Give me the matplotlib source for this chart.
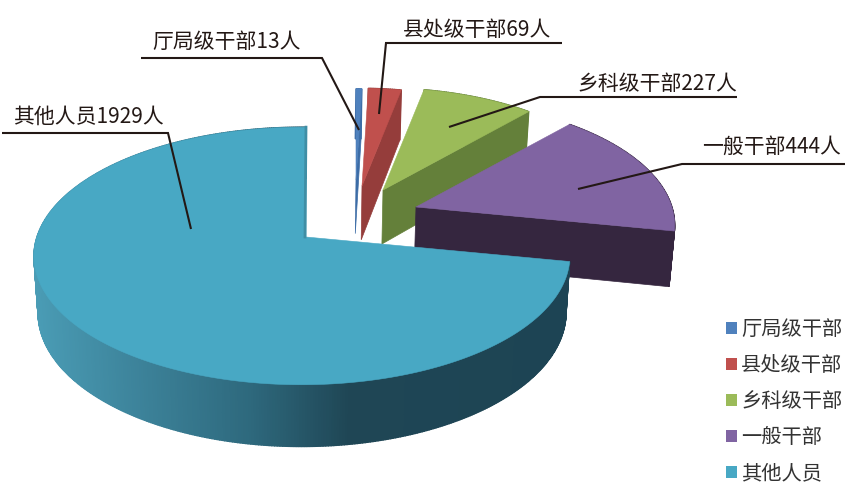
import numpy as np
import matplotlib
matplotlib.use("Agg")
import matplotlib.pyplot as plt
import matplotlib.colors as mcolors
from matplotlib.patches import Patch, Polygon

plt.rcParams['font.family'] = ['Noto Sans CJK SC', 'DejaVu Sans']

names = ['厅局级干部', '县处级干部', '乡科级干部', '一般干部', '其他人员']
counts = [13, 69, 227, 444, 1929]

top_colors = ['#4f81bd', '#c0504d', '#9bbb59', '#8064a2', '#48a8c4']
side_colors = ['#3c6ca6', '#953d3b', '#64803a', '#35263f', '#1d4454']

# where each exploded slice sits (pixels) and how big it is drawn
apex_x = [356, 362, 383, 416, 306]
apex_y = [180, 186, 190, 207, 237]
slice_scale = [0.83, 0.89, 0.93, 0.98, 1.0]

# pie tilt
RX, RY = 265, 126
P_BACK, P_SIDE = 0.147, 0.015
VANISH_X = 310

# shading of the round side of the big slice, by screen x
grad_x = [34, 150, 250, 350, 570]
grad_c = ['#4a9cb5', '#3b8097', '#2e697d', '#1f4655', '#1d4454']

# label text x, y and leader line points
label_x = [152, 403, 578, 702, 13]
label_y = [42, 30, 84, 147, 117]
leader_x = [[141, 322, 359], [562, 386, 379], [737, 540, 449], [845, 682, 578], [2, 168, 191]]
leader_y = [[58, 58, 130], [43, 43, 114], [97, 97, 127], [164, 164, 189], [133, 133, 229]]


def rim(ang, ax0, ay0, s):
    # ang in degrees, clockwise from 12 o'clock
    a = np.radians(ang)
    X, Y = np.sin(a), np.cos(a)
    w = 1 + P_BACK * Y + P_SIDE * X
    return ax0 + s * RX * X / w, ay0 - s * RY * Y / w


def lower(x, y):
    # same point on the underside of the pie
    x = np.asarray(x, dtype=float)
    y = np.asarray(y, dtype=float)
    return VANISH_X + (x - VANISH_X) * 0.985, y + 50 + 0.04 * (y - 90)


def grad_color(x):
    rgb = np.array([mcolors.to_rgb(c) for c in grad_c])
    return [np.interp(x, grad_x, rgb[:, i]) for i in range(3)]


fig = plt.figure(figsize=(8.56, 4.97), dpi=100)
ax = fig.add_axes([0, 0, 1, 1])
ax.set_xlim(0, 856)
ax.set_ylim(497, 0)
ax.axis('off')

edges = np.concatenate([[0], np.cumsum(counts) / np.sum(counts) * 360])

for i in range(len(counts)):
    start, end = edges[i], edges[i + 1]
    x0, y0, s = apex_x[i], apex_y[i], slice_scale[i]
    angs = np.linspace(start, end, max(int(end - start) * 2, 2) + 1)
    rx, ry = rim(angs, x0, y0, s)
    bx, by = lower(rx, ry)
    ax0b, ay0b = lower(x0, y0)

    # straight side, only the ones that face us
    if i < 4:
        ax.add_patch(Polygon([(x0, y0), (rx[-1], ry[-1]), (bx[-1], by[-1]), (ax0b, ay0b)],
                             fc=side_colors[i], ec=side_colors[i], lw=0.5, zorder=i * 3 + 1))

    # round side
    for j in range(len(angs) - 1):
        c = grad_color(rx[j]) if i == 4 else side_colors[i]
        ax.add_patch(Polygon([(rx[j], ry[j]), (rx[j + 1], ry[j + 1]), (bx[j + 1], by[j + 1]), (bx[j], by[j])],
                             fc=c, ec=c, lw=1.0, zorder=i * 3 + 1))

    # top face
    ax.add_patch(Polygon(np.column_stack([np.r_[x0, rx], np.r_[y0, ry]]),
                         fc=top_colors[i], ec=top_colors[i], lw=0.4, zorder=i * 3 + 2))

# dark sliver on the edge of the big slice
ex, ey = rim(edges[-1], apex_x[4], apex_y[4], slice_scale[4])
ax.plot([apex_x[4] - 1, ex], [apex_y[4], ey], color='#3f8ea5', lw=2, zorder=15)

for i in range(len(names)):
    ax.plot(leader_x[i], leader_y[i], color='#231815', lw=1.5, zorder=20,
            solid_joinstyle='miter', solid_capstyle='butt')
    ax.text(label_x[i], label_y[i], f'{names[i]}{counts[i]}人', fontsize=15, color='#231815',
            ha='left', va='center', zorder=21)

handles = [Patch(fc=c, ec='none') for c in top_colors]
ax.legend(handles, names, loc='upper left', bbox_to_anchor=(0.848, 0.358), frameon=False,
          fontsize=14.6, labelcolor='#333333', handlelength=0.55, handleheight=0.55,
          handletextpad=0.2, labelspacing=0.74, borderpad=0, borderaxespad=0)

fig.savefig('out.png', dpi=100)
